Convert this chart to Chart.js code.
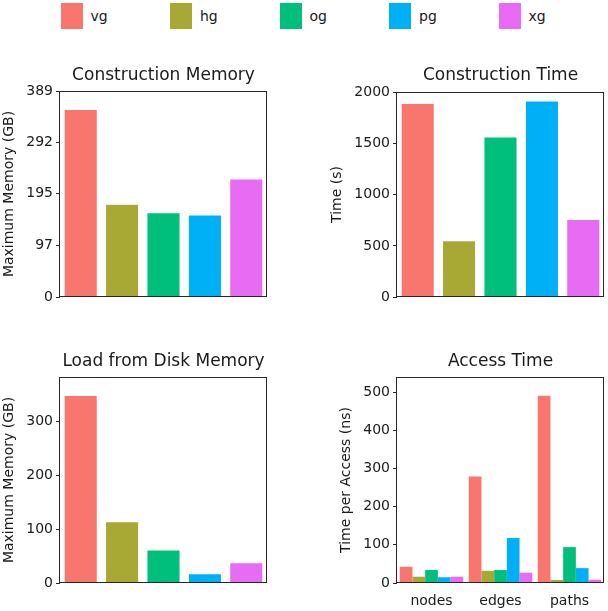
<!DOCTYPE html>
<html>
<head>
<meta charset="utf-8">
<script src="https://cdn.jsdelivr.net/npm/chart.js@4.4.0/dist/chart.umd.min.js"></script>
<style>
  body { margin: 0; background: #fff; width: 608px; height: 611px; position: relative; overflow: hidden; font-family: "DejaVu Sans", sans-serif; }
  canvas { position: absolute; }
  .leg { position: absolute; top: 3px; height: 26px; font-size: 14px; line-height: 27px; color: #1a1a1a; }
  .leg i { position: absolute; left: 0; top: 0; width: 22px; height: 26px; }
  .leg span { position: absolute; left: 30px; top: 0; white-space: nowrap; }
</style>
</head>
<body>
<div id="legend"></div>
<canvas id="cMem" width="300" height="250" style="left:0;top:60px"></canvas>
<canvas id="cTime" width="308" height="250" style="left:300px;top:60px"></canvas>
<canvas id="lMem" width="300" height="271" style="left:0;top:340px"></canvas>
<canvas id="aTime" width="308" height="271" style="left:300px;top:340px"></canvas>
<script>
// data
const tools = ["vg", "hg", "og", "pg", "xg"];
const toolColors = ["#F8766D", "#A8A834", "#00BF7D", "#00B0F6", "#E76BF3"];

const constructionMemory = [354, 175, 159, 155, 223];
const constructionMemoryTicks = [0, 97, 195, 292, 389];

const constructionTime = [1892, 550, 1565, 1917, 759];
const constructionTimeTicks = [0, 500, 1000, 1500, 2000];

const loadMemory = [347.6, 113.5, 61, 17.3, 37.6];
const loadMemoryTicks = [0, 100, 200, 300];

const accessCategories = ["nodes", "edges", "paths"];
const accessVg = [42.7, 279, 491];
const accessHg = [16.5, 32, 8];
const accessOg = [34, 34, 94];
const accessPg = [15, 118, 39];
const accessXg = [16.5, 27, 8.7];
const accessTicks = [0, 100, 200, 300, 400, 500];

Chart.defaults.font.family = "DejaVu Sans";
Chart.defaults.color = "#1a1a1a";

// legend as html
const legend = document.getElementById("legend");
tools.forEach((t, i) => {
  const d = document.createElement("div");
  d.className = "leg";
  d.style.left = (60.5 + i * 109.5) + "px";
  d.innerHTML = '<i style="background:' + toolColors[i] + '"></i><span>' + t + "</span>";
  legend.appendChild(d);
});

// matplotlib-like full box around the axes
const frame = {
  id: "frame",
  afterDraw(chart) {
    const { ctx, chartArea: a } = chart;
    ctx.save();
    ctx.strokeStyle = "#262626";
    ctx.lineWidth = 1;
    const l = Math.round(a.left) - 0.5, t = Math.round(a.top) + 0.5;
    const r = Math.round(a.right) - 0.5, b = Math.round(a.bottom) - 0.5;
    ctx.strokeRect(l, t, r - l, b - t);
    ctx.restore();
  },
};

// box: canvas rect + plot rect in page px
function panel(id, box, title, yLabel, yMax, yTicks, labels, datasets, catPct, xh) {
  const padTitleTop = box.titleY - box.top - 10.2;
  const padTitleBottom = box.plotTop - box.top - padTitleTop - 20.4;
  const yw = box.plotLeft - box.left;
  return new Chart(document.getElementById(id), {
    type: "bar",
    data: { labels: labels, datasets: datasets },
    options: {
      responsive: false,
      animation: false,
      layout: {
        padding: {
          left: 0,
          top: 0,
          right: box.left + box.w - box.plotRight,
          bottom: box.top + box.h - box.plotBottom - xh,
        },
      },
      datasets: { bar: { categoryPercentage: catPct, barPercentage: 1 } },
      plugins: {
        legend: { display: false },
        tooltip: { enabled: false },
        title: {
          display: true,
          text: title,
          fullSize: false,
          font: { size: 17, weight: "normal" },
          color: "#1a1a1a",
          padding: { top: padTitleTop, bottom: padTitleBottom },
        },
      },
      scales: {
        x: {
          grid: { display: false },
          border: { display: false },
          ticks: { display: xh > 0, font: { size: 14 }, padding: 2, color: "#1a1a1a" },
          afterFit: (s) => { s.height = xh; },
        },
        y: {
          min: 0,
          max: yMax,
          grid: { drawOnChartArea: false, drawTicks: true, tickLength: 4, color: "#262626" },
          border: { display: false },
          ticks: { font: { size: 14 }, padding: 3, color: "#1a1a1a", callback: (v) => String(v) },
          afterBuildTicks: (s) => { s.ticks = yTicks.map((v) => ({ value: v })); },
          title: {
            display: true,
            text: yLabel,
            font: { size: 14 },
            color: "#1a1a1a",
            padding: { top: box.labelX - box.left - 8.4, bottom: 0 },
          },
          afterFit: (s) => { s.width = yw; },
        },
      },
    },
    plugins: [frame],
  });
}

function single(values) {
  return [{
    data: values,
    backgroundColor: toolColors,
    borderColor: "rgba(255,255,255,0.45)",
    borderWidth: 0.5,
  }];
}

panel("cMem",
  { left: 0, top: 60, w: 300, h: 250, plotLeft: 60, plotRight: 267, plotTop: 91, plotBottom: 297, labelX: 9.5, titleY: 75.5 },
  "Construction Memory", "Maximum Memory (GB)", 389, constructionMemoryTicks, tools, single(constructionMemory), 0.8, 0);

panel("cTime",
  { left: 300, top: 60, w: 308, h: 250, plotLeft: 397, plotRight: 604, plotTop: 92, plotBottom: 297, labelX: 337.5, titleY: 75.5 },
  "Construction Time", "Time (s)", 2005, constructionTimeTicks, tools, single(constructionTime), 0.8, 0);

panel("lMem",
  { left: 0, top: 340, w: 300, h: 271, plotLeft: 60, plotRight: 267, plotTop: 377, plotBottom: 583, labelX: 9.5, titleY: 361.5 },
  "Load from Disk Memory", "Maximum Memory (GB)", 382, loadMemoryTicks, tools, single(loadMemory), 0.8, 0);

const accessSeries = [accessVg, accessHg, accessOg, accessPg, accessXg];
panel("aTime",
  { left: 300, top: 340, w: 308, h: 271, plotLeft: 397, plotRight: 604, plotTop: 377, plotBottom: 583, labelX: 346, titleY: 361.5 },
  "Access Time", "Time per Access (ns)", 540, accessTicks, accessCategories,
  accessSeries.map((vals, i) => ({
    label: tools[i],
    data: vals,
    backgroundColor: toolColors[i],
    borderWidth: 0,
  })), 0.92, 28);
</script>
</body>
</html>
